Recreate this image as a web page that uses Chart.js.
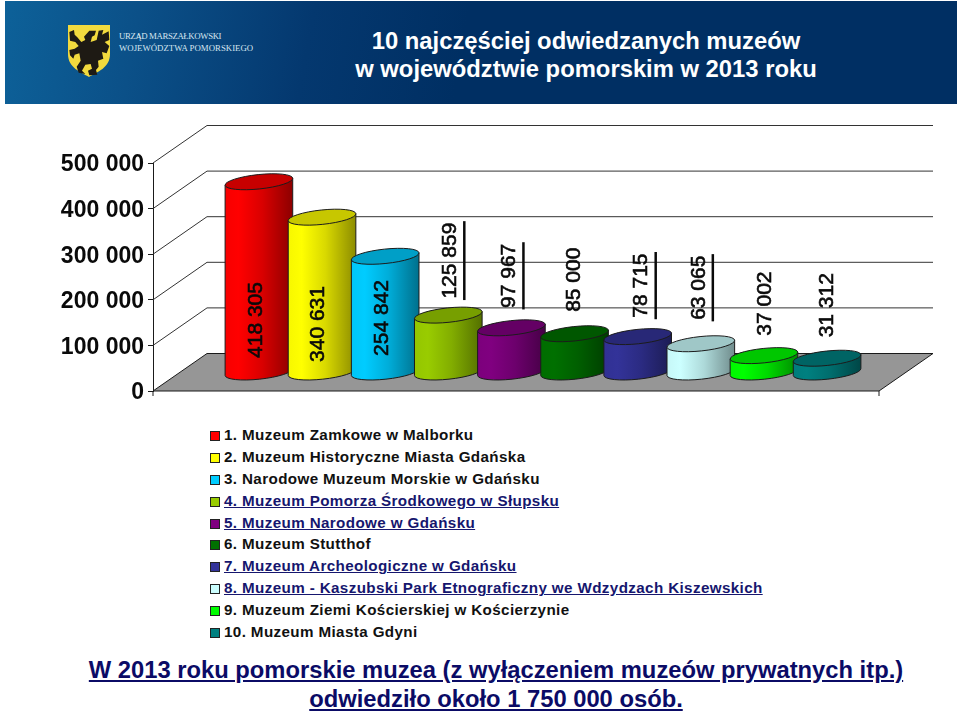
<!DOCTYPE html>
<html lang="pl">
<head>
  <meta charset="UTF-8">
  <title>10 najczęściej odwiedzanych muzeów</title>
  <script src="https://cdn.jsdelivr.net/npm/chart.js"></script>
  <style>
    html, body { margin: 0; padding: 0; background: #fff; overflow: hidden; }
    body { position: relative; width: 960px; height: 716px; font-family: "Liberation Sans", Arial, sans-serif; }
    #banner {
      position: absolute; left: 5px; top: 1px; width: 952px; height: 103px;
      background: linear-gradient(100deg, #0d6199 0%, #0b5088 14%, #04386f 32%, #002f63 48%, #002f63 100%);
    }
    #logo { position: absolute; left: 62px; top: 23px; }
    .logoText { position: absolute; left: 114px; color: #d7e6f0; font: 8.8px "Liberation Serif", serif; white-space: nowrap; }
    #title {
      position: absolute; left: 226px; top: 26px; width: 710px; text-align: center;
      color: #fff; font-weight: bold; font-size: 23.8px; line-height: 28px;
    }
    #chartBox { position: absolute; left: 0; top: 110px; width: 960px; height: 300px; }
    #legend { position: absolute; left: 210px; top: 424px; }
    .row { position: relative; height: 21.9px; line-height: 21.9px; padding-left: 14px; font-size: 15.2px; font-weight: bold; color: #111; white-space: nowrap; letter-spacing: 0.38px; }
    .row i { position: absolute; left: 0; top: 7px; width: 8px; height: 8px; border: 1px solid #222; }
    .row.link { color: #16166e; text-decoration: underline; }
    #footer {
      position: absolute; left: 0; top: 656px; width: 992px; text-align: center;
      color: #0b0b66; font-weight: bold; font-size: 23.75px; line-height: 28.5px; text-decoration: underline;
    }
  </style>
</head>
<body>
  <div id="banner">
    <svg id="logo" width="44" height="54" viewBox="0 0 44 54">
      <path d="M1 1 H43 V30 C43 44 30 48 22 53 C14 48 1 44 1 30 Z" fill="#f2da3e"/>
      <g transform="translate(-7 -4) scale(.3333)">
        <path d="M72 50 L88 32 L108 32 L104 46 L96 50 L92 66 L110 60 L116 32 L130 30 L126 44 L146 34 L148 60 L134 66 L148 78 L140 100 L126 96 L130 116 L114 122 L116 140 L108 150 L112 164 L88 166 L84 152 L96 146 L92 132 L76 134 L66 152 L76 162 L56 158 L50 140 L62 122 L58 100 L44 104 L40 116 L30 106 L28 90 L44 86 L56 78 L46 66 L30 62 L28 36 L42 30 L44 44 L52 52 L64 66 L76 60 Z" fill="#1e1a14"/>
      </g>
    </svg>
    <div class="logoText" style="top:30px;letter-spacing:-0.4px">URZĄD MARSZAŁKOWSKI</div>
    <div class="logoText" style="top:42px">WOJEWÓDZTWA POMORSKIEGO</div>
    <div id="title">10 najczęściej odwiedzanych muzeów<br>w województwie pomorskim w 2013 roku</div>
  </div>
  <div id="chartBox"><canvas id="museumChart" width="960" height="300"></canvas></div>
  <div id="legend"></div>
  <div id="footer">W 2013 roku pomorskie muzea (z wyłączeniem muzeów prywatnych itp.)<br>odwiedziło około 1 750 000 osób.</div>

  <script>
    const categories = [
      '1. Muzeum Zamkowe w Malborku',
      '2. Muzeum Historyczne Miasta Gdańska',
      '3. Narodowe Muzeum Morskie w Gdańsku',
      '4. Muzeum Pomorza Środkowego w Słupsku',
      '5. Muzeum Narodowe w Gdańsku',
      '6. Muzeum Stutthof',
      '7. Muzeum Archeologiczne w Gdańsku',
      '8. Muzeum - Kaszubski Park Etnograficzny we Wdzydzach Kiszewskich',
      '9. Muzeum Ziemi Kościerskiej w Kościerzynie',
      '10. Muzeum Miasta Gdyni'
    ];
    const visitors = [418305, 340631, 254842, 125859, 97967, 85000, 78715, 63065, 37002, 31312];
    const tickLabels = ['0', '100 000', '200 000', '300 000', '400 000', '500 000'];
    const barColors = ['#ff0000', '#ffff00', '#00ccff', '#99cc00', '#800080', '#007000', '#333399', '#ccffff', '#00ff00', '#008080'];
    const linkRows = [3, 4, 6, 7];

    // hand placed labels in the original slide
    const labelNudgeX = [-4, -5, -4, 1, -3, -1, 3, -3, 0, -1];
    const labelNudgeY = [0, 4, -2, -1.5, 1, -1, 2, -3, 1, 0];
    const labelRules = [3, 4, 6, 7];

    const WALL_DX = 54, WALL_DY = -37.5;   // back wall offset from the front plane
    const BAR_DX = 27, BAR_DY = -18.5;     // bars stand half way into the floor

    function shade(hex, f) {
      const n = parseInt(hex.slice(1), 16);
      const c = [n >> 16, (n >> 8) & 255, n & 255].map(v => Math.round(v * f));
      return 'rgb(' + c.join(',') + ')';
    }

    // the library's bar loop draws a cylinder in place of the flat rectangle
    Chart.BarElement.prototype.draw = function (ctx) {
      const color = this.options.backgroundColor;
      const cx = this.x + BAR_DX;
      const top = this.y + BAR_DY;
      const base = this.base + BAR_DY;
      const rx = this.width / 2, ry = 7.2, rot = -6 * Math.PI / 180;
      const ex = rx * Math.cos(rot), ey = rx * Math.sin(rot);

      const body = ctx.createLinearGradient(cx - rx, 0, cx + rx, 0);
      body.addColorStop(0, shade(color, 0.97));
      body.addColorStop(0.2, color);
      body.addColorStop(0.55, shade(color, 0.85));
      body.addColorStop(1, shade(color, 0.55));

      ctx.save();
      ctx.lineWidth = 1;
      ctx.strokeStyle = '#1c1c1c';
      ctx.beginPath();
      ctx.moveTo(cx + ex, top + ey);
      ctx.lineTo(cx + ex, base + ey);
      ctx.ellipse(cx, base, rx, ry, rot, 0, Math.PI, false);
      ctx.lineTo(cx - ex, top - ey);
      ctx.closePath();
      ctx.fillStyle = body;
      ctx.fill();
      ctx.stroke();

      ctx.beginPath();
      ctx.ellipse(cx, top, rx, ry, rot, 0, Math.PI * 2);
      ctx.fillStyle = shade(color, 0.78);
      ctx.fill();
      ctx.stroke();
      ctx.restore();
    };

    const wallsPlugin = {
      id: 'walls',
      beforeDatasetsDraw(chart) {
        const { ctx, chartArea: a, scales: { y } } = chart;
        const floorY = y.getPixelForValue(0);
        ctx.save();
        ctx.beginPath();
        ctx.moveTo(a.left, floorY);
        ctx.lineTo(a.left + WALL_DX, floorY + WALL_DY);
        ctx.lineTo(a.right + WALL_DX, floorY + WALL_DY);
        ctx.lineTo(a.right, floorY);
        ctx.closePath();
        ctx.fillStyle = '#969696';
        ctx.fill();
        ctx.strokeStyle = '#1a1a1a';
        ctx.lineWidth = 1;
        ctx.stroke();

        y.ticks.forEach(t => {
          if (t.value === 0) return;
          const py = y.getPixelForValue(t.value);
          ctx.beginPath();
          ctx.moveTo(a.left, py);
          ctx.lineTo(a.left + WALL_DX, py + WALL_DY);
          ctx.lineTo(a.right + WALL_DX, py + WALL_DY);
          ctx.strokeStyle = '#333';
          ctx.stroke();
        });

        // small ticks under the front edge
        ctx.strokeStyle = '#1a1a1a';
        [a.left, a.right].forEach(px => {
          ctx.beginPath();
          ctx.moveTo(px, floorY);
          ctx.lineTo(px, floorY + 5);
          ctx.stroke();
        });
        ctx.restore();
      }
    };

    const valueLabelsPlugin = {
      id: 'valueLabels',
      afterDatasetsDraw(chart) {
        const { ctx } = chart;
        const bars = chart.getDatasetMeta(0).data;
        ctx.save();
        ctx.font = '21px "Liberation Sans", Arial, sans-serif';
        ctx.fillStyle = '#0a0a0a';
        ctx.strokeStyle = '#0a0a0a';
        ctx.textAlign = 'center';
        ctx.textBaseline = 'middle';
        bars.forEach((bar, i) => {
          const inside = visitors[i] > 200000;
          const text = String(visitors[i]).replace(/\B(?=(\d{3})+$)/g, ' ');
          const px = bar.x + BAR_DX + labelNudgeX[i];
          const py = (inside ? bar.base + BAR_DY - 52 : bar.y + BAR_DY - 53) + labelNudgeY[i];
          ctx.save();
          ctx.translate(px, py);
          ctx.rotate(-Math.PI / 2);
          ctx.lineWidth = 0.6;
          ctx.fillText(text, 0, 1);
          ctx.strokeText(text, 0, 1);
          ctx.restore();
          if (labelRules.includes(i)) {
            const half = ctx.measureText(text).width / 2 + 1.5;
            ctx.beginPath();
            ctx.moveTo(px + 15, py - half);
            ctx.lineTo(px + 15, py + half);
            ctx.lineWidth = 2.5;
            ctx.stroke();
          }
        });
        ctx.restore();
      }
    };

    new Chart(document.getElementById('museumChart').getContext('2d'), {
      type: 'bar',
      data: {
        labels: categories,
        datasets: [{
          label: 'Odwiedzający',
          data: visitors.map((v, i) => ({ x: i + 1, y: v })),
          backgroundColor: barColors,
          barThickness: 68,
          clip: false
        }]
      },
      options: {
        responsive: false,
        animation: false,
        layout: { padding: { top: 53, bottom: 19, right: 81, left: 0 } },
        plugins: { legend: { display: false }, tooltip: { enabled: false } },
        scales: {
          x: { type: 'linear', display: false, offset: false, min: -0.25, max: 11.25 },
          y: {
            min: 0,
            max: 500000,
            afterFit(scale) { scale.width = 153; },
            ticks: {
              stepSize: 100000,
              padding: 4,
              labelOffset: 2,
              color: '#0a0a0a',
              font: { family: '"Liberation Sans", Arial, sans-serif', size: 23, weight: 'bold' },
              callback: (value, i) => tickLabels[i]
            },
            grid: { drawOnChartArea: false, tickLength: 5, color: '#1a1a1a' },
            border: { color: '#1a1a1a' }
          }
        }
      },
      plugins: [wallsPlugin, valueLabelsPlugin]
    });

    const legend = document.getElementById('legend');
    categories.forEach((name, i) => {
      const row = document.createElement('div');
      row.className = 'row' + (linkRows.includes(i) ? ' link' : '');
      const swatch = document.createElement('i');
      swatch.style.background = barColors[i];
      row.appendChild(swatch);
      row.appendChild(document.createTextNode(name));
      legend.appendChild(row);
    });
  </script>
</body>
</html>
